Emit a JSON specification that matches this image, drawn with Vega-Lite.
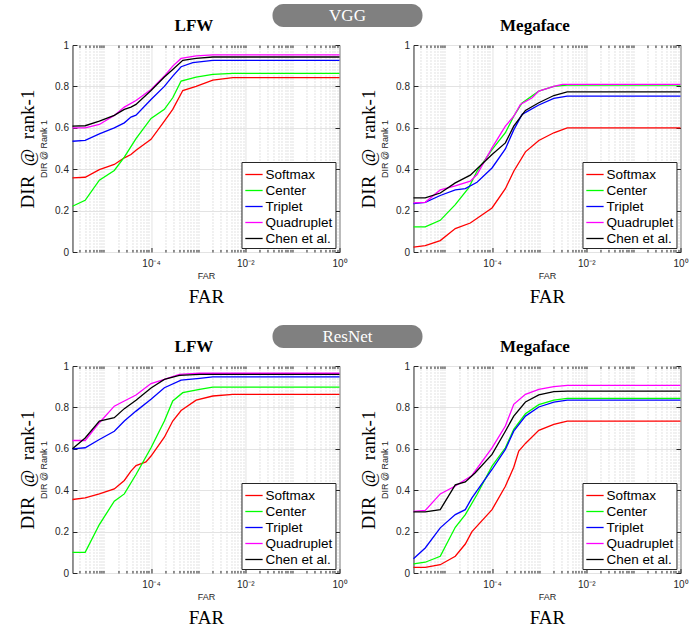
{
"$schema": "https://vega.github.io/schema/vega-lite/v6.json",
"background": "white",
"padding": {"left": 17, "top": 4, "right": 0, "bottom": 0},
"datasets": {"d": [
{"net":"VGG","set":"LFW","method":"Softmax","far":2.15e-6,"dir":0.358},
{"net":"VGG","set":"LFW","method":"Softmax","far":4e-6,"dir":0.361},
{"net":"VGG","set":"LFW","method":"Softmax","far":8e-6,"dir":0.398},
{"net":"VGG","set":"LFW","method":"Softmax","far":1.66e-5,"dir":0.423},
{"net":"VGG","set":"LFW","method":"Softmax","far":2.71e-5,"dir":0.455},
{"net":"VGG","set":"LFW","method":"Softmax","far":3.75e-5,"dir":0.471},
{"net":"VGG","set":"LFW","method":"Softmax","far":4.8e-5,"dir":0.492},
{"net":"VGG","set":"LFW","method":"Softmax","far":1e-4,"dir":0.544},
{"net":"VGG","set":"LFW","method":"Softmax","far":1.92e-4,"dir":0.632},
{"net":"VGG","set":"LFW","method":"Softmax","far":2.89e-4,"dir":0.689},
{"net":"VGG","set":"LFW","method":"Softmax","far":4.72e-4,"dir":0.78},
{"net":"VGG","set":"LFW","method":"Softmax","far":9.06e-4,"dir":0.80},
{"net":"VGG","set":"LFW","method":"Softmax","far":2.05e-3,"dir":0.83},
{"net":"VGG","set":"LFW","method":"Softmax","far":5.47e-3,"dir":0.842},
{"net":"VGG","set":"LFW","method":"Softmax","far":1,"dir":0.842},
{"net":"VGG","set":"LFW","method":"Center","far":2.15e-6,"dir":0.221},
{"net":"VGG","set":"LFW","method":"Center","far":4e-6,"dir":0.25},
{"net":"VGG","set":"LFW","method":"Center","far":8e-6,"dir":0.347},
{"net":"VGG","set":"LFW","method":"Center","far":1.66e-5,"dir":0.394},
{"net":"VGG","set":"LFW","method":"Center","far":2.71e-5,"dir":0.458},
{"net":"VGG","set":"LFW","method":"Center","far":4.8e-5,"dir":0.548},
{"net":"VGG","set":"LFW","method":"Center","far":1e-4,"dir":0.645},
{"net":"VGG","set":"LFW","method":"Center","far":1.92e-4,"dir":0.689},
{"net":"VGG","set":"LFW","method":"Center","far":2.89e-4,"dir":0.745},
{"net":"VGG","set":"LFW","method":"Center","far":4.35e-4,"dir":0.826},
{"net":"VGG","set":"LFW","method":"Center","far":9.06e-4,"dir":0.845},
{"net":"VGG","set":"LFW","method":"Center","far":2.05e-3,"dir":0.858},
{"net":"VGG","set":"LFW","method":"Center","far":5.47e-3,"dir":0.863},
{"net":"VGG","set":"LFW","method":"Center","far":1,"dir":0.863},
{"net":"VGG","set":"LFW","method":"Triplet","far":2.15e-6,"dir":0.535},
{"net":"VGG","set":"LFW","method":"Triplet","far":4e-6,"dir":0.539},
{"net":"VGG","set":"LFW","method":"Triplet","far":8e-6,"dir":0.571},
{"net":"VGG","set":"LFW","method":"Triplet","far":1.66e-5,"dir":0.60},
{"net":"VGG","set":"LFW","method":"Triplet","far":2.71e-5,"dir":0.624},
{"net":"VGG","set":"LFW","method":"Triplet","far":3.75e-5,"dir":0.652},
{"net":"VGG","set":"LFW","method":"Triplet","far":4.8e-5,"dir":0.661},
{"net":"VGG","set":"LFW","method":"Triplet","far":1e-4,"dir":0.737},
{"net":"VGG","set":"LFW","method":"Triplet","far":1.92e-4,"dir":0.80},
{"net":"VGG","set":"LFW","method":"Triplet","far":2.89e-4,"dir":0.85},
{"net":"VGG","set":"LFW","method":"Triplet","far":4.35e-4,"dir":0.895},
{"net":"VGG","set":"LFW","method":"Triplet","far":7.7e-4,"dir":0.915},
{"net":"VGG","set":"LFW","method":"Triplet","far":2.05e-3,"dir":0.926},
{"net":"VGG","set":"LFW","method":"Triplet","far":1,"dir":0.926},
{"net":"VGG","set":"LFW","method":"Quadruplet","far":2.15e-6,"dir":0.60},
{"net":"VGG","set":"LFW","method":"Quadruplet","far":4e-6,"dir":0.60},
{"net":"VGG","set":"LFW","method":"Quadruplet","far":8e-6,"dir":0.616},
{"net":"VGG","set":"LFW","method":"Quadruplet","far":1.66e-5,"dir":0.66},
{"net":"VGG","set":"LFW","method":"Quadruplet","far":2.71e-5,"dir":0.70},
{"net":"VGG","set":"LFW","method":"Quadruplet","far":4.8e-5,"dir":0.732},
{"net":"VGG","set":"LFW","method":"Quadruplet","far":1e-4,"dir":0.785},
{"net":"VGG","set":"LFW","method":"Quadruplet","far":1.92e-4,"dir":0.85},
{"net":"VGG","set":"LFW","method":"Quadruplet","far":2.89e-4,"dir":0.898},
{"net":"VGG","set":"LFW","method":"Quadruplet","far":4.35e-4,"dir":0.935},
{"net":"VGG","set":"LFW","method":"Quadruplet","far":9.06e-4,"dir":0.947},
{"net":"VGG","set":"LFW","method":"Quadruplet","far":2.05e-3,"dir":0.952},
{"net":"VGG","set":"LFW","method":"Quadruplet","far":1,"dir":0.952},
{"net":"VGG","set":"LFW","method":"Chen et al.","far":2.15e-6,"dir":0.608},
{"net":"VGG","set":"LFW","method":"Chen et al.","far":4e-6,"dir":0.61},
{"net":"VGG","set":"LFW","method":"Chen et al.","far":8e-6,"dir":0.632},
{"net":"VGG","set":"LFW","method":"Chen et al.","far":1.66e-5,"dir":0.66},
{"net":"VGG","set":"LFW","method":"Chen et al.","far":2.71e-5,"dir":0.689},
{"net":"VGG","set":"LFW","method":"Chen et al.","far":3.75e-5,"dir":0.70},
{"net":"VGG","set":"LFW","method":"Chen et al.","far":4.8e-5,"dir":0.713},
{"net":"VGG","set":"LFW","method":"Chen et al.","far":1e-4,"dir":0.78},
{"net":"VGG","set":"LFW","method":"Chen et al.","far":1.92e-4,"dir":0.845},
{"net":"VGG","set":"LFW","method":"Chen et al.","far":2.89e-4,"dir":0.882},
{"net":"VGG","set":"LFW","method":"Chen et al.","far":4.72e-4,"dir":0.926},
{"net":"VGG","set":"LFW","method":"Chen et al.","far":9.06e-4,"dir":0.935},
{"net":"VGG","set":"LFW","method":"Chen et al.","far":2.05e-3,"dir":0.942},
{"net":"VGG","set":"LFW","method":"Chen et al.","far":1,"dir":0.942},
{"net":"VGG","set":"Megaface","method":"Softmax","far":2.15e-6,"dir":0.024},
{"net":"VGG","set":"Megaface","method":"Softmax","far":3.82e-6,"dir":0.031},
{"net":"VGG","set":"Megaface","method":"Softmax","far":7.96e-6,"dir":0.055},
{"net":"VGG","set":"Megaface","method":"Softmax","far":1.66e-5,"dir":0.113},
{"net":"VGG","set":"Megaface","method":"Softmax","far":3.46e-5,"dir":0.14},
{"net":"VGG","set":"Megaface","method":"Softmax","far":1e-4,"dir":0.213},
{"net":"VGG","set":"Megaface","method":"Softmax","far":1.92e-4,"dir":0.306},
{"net":"VGG","set":"Megaface","method":"Softmax","far":2.89e-4,"dir":0.39},
{"net":"VGG","set":"Megaface","method":"Softmax","far":5.12e-4,"dir":0.484},
{"net":"VGG","set":"Megaface","method":"Softmax","far":9.84e-4,"dir":0.539},
{"net":"VGG","set":"Megaface","method":"Softmax","far":2.05e-3,"dir":0.576},
{"net":"VGG","set":"Megaface","method":"Softmax","far":3.94e-3,"dir":0.60},
{"net":"VGG","set":"Megaface","method":"Softmax","far":1,"dir":0.60},
{"net":"VGG","set":"Megaface","method":"Center","far":2.15e-6,"dir":0.121},
{"net":"VGG","set":"Megaface","method":"Center","far":3.82e-6,"dir":0.121},
{"net":"VGG","set":"Megaface","method":"Center","far":7.96e-6,"dir":0.153},
{"net":"VGG","set":"Megaface","method":"Center","far":1.66e-5,"dir":0.229},
{"net":"VGG","set":"Megaface","method":"Center","far":3.19e-5,"dir":0.31},
{"net":"VGG","set":"Megaface","method":"Center","far":4.8e-5,"dir":0.39},
{"net":"VGG","set":"Megaface","method":"Center","far":1e-4,"dir":0.495},
{"net":"VGG","set":"Megaface","method":"Center","far":1.92e-4,"dir":0.576},
{"net":"VGG","set":"Megaface","method":"Center","far":2.89e-4,"dir":0.656},
{"net":"VGG","set":"Megaface","method":"Center","far":4.35e-4,"dir":0.72},
{"net":"VGG","set":"Megaface","method":"Center","far":9.84e-4,"dir":0.777},
{"net":"VGG","set":"Megaface","method":"Center","far":2.05e-3,"dir":0.80},
{"net":"VGG","set":"Megaface","method":"Center","far":3.94e-3,"dir":0.806},
{"net":"VGG","set":"Megaface","method":"Center","far":1,"dir":0.806},
{"net":"VGG","set":"Megaface","method":"Triplet","far":2.15e-6,"dir":0.234},
{"net":"VGG","set":"Megaface","method":"Triplet","far":3.82e-6,"dir":0.24},
{"net":"VGG","set":"Megaface","method":"Triplet","far":7.96e-6,"dir":0.273},
{"net":"VGG","set":"Megaface","method":"Triplet","far":1.66e-5,"dir":0.30},
{"net":"VGG","set":"Megaface","method":"Triplet","far":2.71e-5,"dir":0.306},
{"net":"VGG","set":"Megaface","method":"Triplet","far":4.8e-5,"dir":0.337},
{"net":"VGG","set":"Megaface","method":"Triplet","far":1e-4,"dir":0.406},
{"net":"VGG","set":"Megaface","method":"Triplet","far":1.92e-4,"dir":0.498},
{"net":"VGG","set":"Megaface","method":"Triplet","far":2.89e-4,"dir":0.59},
{"net":"VGG","set":"Megaface","method":"Triplet","far":4.35e-4,"dir":0.665},
{"net":"VGG","set":"Megaface","method":"Triplet","far":9.84e-4,"dir":0.71},
{"net":"VGG","set":"Megaface","method":"Triplet","far":2.05e-3,"dir":0.742},
{"net":"VGG","set":"Megaface","method":"Triplet","far":3.94e-3,"dir":0.753},
{"net":"VGG","set":"Megaface","method":"Triplet","far":1,"dir":0.753},
{"net":"VGG","set":"Megaface","method":"Quadruplet","far":2.15e-6,"dir":0.237},
{"net":"VGG","set":"Megaface","method":"Quadruplet","far":3.82e-6,"dir":0.24},
{"net":"VGG","set":"Megaface","method":"Quadruplet","far":7.96e-6,"dir":0.30},
{"net":"VGG","set":"Megaface","method":"Quadruplet","far":1.66e-5,"dir":0.32},
{"net":"VGG","set":"Megaface","method":"Quadruplet","far":3.46e-5,"dir":0.342},
{"net":"VGG","set":"Megaface","method":"Quadruplet","far":4.8e-5,"dir":0.374},
{"net":"VGG","set":"Megaface","method":"Quadruplet","far":1e-4,"dir":0.503},
{"net":"VGG","set":"Megaface","method":"Quadruplet","far":1.92e-4,"dir":0.608},
{"net":"VGG","set":"Megaface","method":"Quadruplet","far":2.89e-4,"dir":0.656},
{"net":"VGG","set":"Megaface","method":"Quadruplet","far":4e-4,"dir":0.713},
{"net":"VGG","set":"Megaface","method":"Quadruplet","far":7.1e-4,"dir":0.745},
{"net":"VGG","set":"Megaface","method":"Quadruplet","far":9.84e-4,"dir":0.777},
{"net":"VGG","set":"Megaface","method":"Quadruplet","far":2.05e-3,"dir":0.80},
{"net":"VGG","set":"Megaface","method":"Quadruplet","far":3.09e-3,"dir":0.81},
{"net":"VGG","set":"Megaface","method":"Quadruplet","far":1,"dir":0.81},
{"net":"VGG","set":"Megaface","method":"Chen et al.","far":2.15e-6,"dir":0.261},
{"net":"VGG","set":"Megaface","method":"Chen et al.","far":3.82e-6,"dir":0.261},
{"net":"VGG","set":"Megaface","method":"Chen et al.","far":7.96e-6,"dir":0.285},
{"net":"VGG","set":"Megaface","method":"Chen et al.","far":1.66e-5,"dir":0.334},
{"net":"VGG","set":"Megaface","method":"Chen et al.","far":3.46e-5,"dir":0.371},
{"net":"VGG","set":"Megaface","method":"Chen et al.","far":1e-4,"dir":0.471},
{"net":"VGG","set":"Megaface","method":"Chen et al.","far":1.92e-4,"dir":0.527},
{"net":"VGG","set":"Megaface","method":"Chen et al.","far":2.89e-4,"dir":0.608},
{"net":"VGG","set":"Megaface","method":"Chen et al.","far":5.12e-4,"dir":0.684},
{"net":"VGG","set":"Megaface","method":"Chen et al.","far":9.84e-4,"dir":0.721},
{"net":"VGG","set":"Megaface","method":"Chen et al.","far":2.05e-3,"dir":0.756},
{"net":"VGG","set":"Megaface","method":"Chen et al.","far":3.94e-3,"dir":0.774},
{"net":"VGG","set":"Megaface","method":"Chen et al.","far":1,"dir":0.774},
{"net":"ResNet","set":"LFW","method":"Softmax","far":2.15e-6,"dir":0.355},
{"net":"ResNet","set":"LFW","method":"Softmax","far":4e-6,"dir":0.363},
{"net":"ResNet","set":"LFW","method":"Softmax","far":8e-6,"dir":0.382},
{"net":"ResNet","set":"LFW","method":"Softmax","far":1.66e-5,"dir":0.406},
{"net":"ResNet","set":"LFW","method":"Softmax","far":2.71e-5,"dir":0.447},
{"net":"ResNet","set":"LFW","method":"Softmax","far":3.75e-5,"dir":0.492},
{"net":"ResNet","set":"LFW","method":"Softmax","far":4.8e-5,"dir":0.519},
{"net":"ResNet","set":"LFW","method":"Softmax","far":7.8e-5,"dir":0.537},
{"net":"ResNet","set":"LFW","method":"Softmax","far":1e-4,"dir":0.565},
{"net":"ResNet","set":"LFW","method":"Softmax","far":1.92e-4,"dir":0.656},
{"net":"ResNet","set":"LFW","method":"Softmax","far":2.89e-4,"dir":0.734},
{"net":"ResNet","set":"LFW","method":"Softmax","far":4.35e-4,"dir":0.785},
{"net":"ResNet","set":"LFW","method":"Softmax","far":9.06e-4,"dir":0.835},
{"net":"ResNet","set":"LFW","method":"Softmax","far":2.05e-3,"dir":0.855},
{"net":"ResNet","set":"LFW","method":"Softmax","far":5.47e-3,"dir":0.863},
{"net":"ResNet","set":"LFW","method":"Softmax","far":1,"dir":0.863},
{"net":"ResNet","set":"LFW","method":"Center","far":2.15e-6,"dir":0.10},
{"net":"ResNet","set":"LFW","method":"Center","far":4e-6,"dir":0.10},
{"net":"ResNet","set":"LFW","method":"Center","far":8e-6,"dir":0.234},
{"net":"ResNet","set":"LFW","method":"Center","far":1.66e-5,"dir":0.347},
{"net":"ResNet","set":"LFW","method":"Center","far":2.71e-5,"dir":0.382},
{"net":"ResNet","set":"LFW","method":"Center","far":4.8e-5,"dir":0.476},
{"net":"ResNet","set":"LFW","method":"Center","far":1e-4,"dir":0.605},
{"net":"ResNet","set":"LFW","method":"Center","far":1.92e-4,"dir":0.734},
{"net":"ResNet","set":"LFW","method":"Center","far":2.89e-4,"dir":0.831},
{"net":"ResNet","set":"LFW","method":"Center","far":4.72e-4,"dir":0.871},
{"net":"ResNet","set":"LFW","method":"Center","far":1.07e-3,"dir":0.887},
{"net":"ResNet","set":"LFW","method":"Center","far":2.05e-3,"dir":0.898},
{"net":"ResNet","set":"LFW","method":"Center","far":1,"dir":0.898},
{"net":"ResNet","set":"LFW","method":"Triplet","far":2.15e-6,"dir":0.60},
{"net":"ResNet","set":"LFW","method":"Triplet","far":4e-6,"dir":0.605},
{"net":"ResNet","set":"LFW","method":"Triplet","far":8e-6,"dir":0.645},
{"net":"ResNet","set":"LFW","method":"Triplet","far":1.66e-5,"dir":0.685},
{"net":"ResNet","set":"LFW","method":"Triplet","far":2.71e-5,"dir":0.734},
{"net":"ResNet","set":"LFW","method":"Triplet","far":4.8e-5,"dir":0.782},
{"net":"ResNet","set":"LFW","method":"Triplet","far":1e-4,"dir":0.839},
{"net":"ResNet","set":"LFW","method":"Triplet","far":1.92e-4,"dir":0.895},
{"net":"ResNet","set":"LFW","method":"Triplet","far":4.35e-4,"dir":0.932},
{"net":"ResNet","set":"LFW","method":"Triplet","far":1.07e-3,"dir":0.94},
{"net":"ResNet","set":"LFW","method":"Triplet","far":2.05e-3,"dir":0.947},
{"net":"ResNet","set":"LFW","method":"Triplet","far":1,"dir":0.947},
{"net":"ResNet","set":"LFW","method":"Quadruplet","far":2.15e-6,"dir":0.64},
{"net":"ResNet","set":"LFW","method":"Quadruplet","far":4e-6,"dir":0.64},
{"net":"ResNet","set":"LFW","method":"Quadruplet","far":8e-6,"dir":0.726},
{"net":"ResNet","set":"LFW","method":"Quadruplet","far":1.66e-5,"dir":0.806},
{"net":"ResNet","set":"LFW","method":"Quadruplet","far":2.71e-5,"dir":0.831},
{"net":"ResNet","set":"LFW","method":"Quadruplet","far":4.8e-5,"dir":0.86},
{"net":"ResNet","set":"LFW","method":"Quadruplet","far":1e-4,"dir":0.915},
{"net":"ResNet","set":"LFW","method":"Quadruplet","far":1.92e-4,"dir":0.935},
{"net":"ResNet","set":"LFW","method":"Quadruplet","far":4e-4,"dir":0.96},
{"net":"ResNet","set":"LFW","method":"Quadruplet","far":1.07e-3,"dir":0.965},
{"net":"ResNet","set":"LFW","method":"Quadruplet","far":1,"dir":0.965},
{"net":"ResNet","set":"LFW","method":"Chen et al.","far":2.15e-6,"dir":0.60},
{"net":"ResNet","set":"LFW","method":"Chen et al.","far":4e-6,"dir":0.652},
{"net":"ResNet","set":"LFW","method":"Chen et al.","far":8e-6,"dir":0.734},
{"net":"ResNet","set":"LFW","method":"Chen et al.","far":1.66e-5,"dir":0.75},
{"net":"ResNet","set":"LFW","method":"Chen et al.","far":2.71e-5,"dir":0.794},
{"net":"ResNet","set":"LFW","method":"Chen et al.","far":4.8e-5,"dir":0.835},
{"net":"ResNet","set":"LFW","method":"Chen et al.","far":1e-4,"dir":0.894},
{"net":"ResNet","set":"LFW","method":"Chen et al.","far":1.92e-4,"dir":0.935},
{"net":"ResNet","set":"LFW","method":"Chen et al.","far":4e-4,"dir":0.955},
{"net":"ResNet","set":"LFW","method":"Chen et al.","far":1.07e-3,"dir":0.96},
{"net":"ResNet","set":"LFW","method":"Chen et al.","far":1,"dir":0.96},
{"net":"ResNet","set":"Megaface","method":"Softmax","far":2.15e-6,"dir":0.027},
{"net":"ResNet","set":"Megaface","method":"Softmax","far":3.82e-6,"dir":0.027},
{"net":"ResNet","set":"Megaface","method":"Softmax","far":7.96e-6,"dir":0.04},
{"net":"ResNet","set":"Megaface","method":"Softmax","far":1.66e-5,"dir":0.081},
{"net":"ResNet","set":"Megaface","method":"Softmax","far":2.71e-5,"dir":0.14},
{"net":"ResNet","set":"Megaface","method":"Softmax","far":3.75e-5,"dir":0.20},
{"net":"ResNet","set":"Megaface","method":"Softmax","far":1e-4,"dir":0.306},
{"net":"ResNet","set":"Megaface","method":"Softmax","far":1.92e-4,"dir":0.419},
{"net":"ResNet","set":"Megaface","method":"Softmax","far":2.89e-4,"dir":0.511},
{"net":"ResNet","set":"Megaface","method":"Softmax","far":3.69e-4,"dir":0.589},
{"net":"ResNet","set":"Megaface","method":"Softmax","far":5.12e-4,"dir":0.626},
{"net":"ResNet","set":"Megaface","method":"Softmax","far":9.84e-4,"dir":0.689},
{"net":"ResNet","set":"Megaface","method":"Softmax","far":2.05e-3,"dir":0.718},
{"net":"ResNet","set":"Megaface","method":"Softmax","far":3.94e-3,"dir":0.734},
{"net":"ResNet","set":"Megaface","method":"Softmax","far":1,"dir":0.734},
{"net":"ResNet","set":"Megaface","method":"Center","far":2.15e-6,"dir":0.044},
{"net":"ResNet","set":"Megaface","method":"Center","far":3.82e-6,"dir":0.052},
{"net":"ResNet","set":"Megaface","method":"Center","far":7.96e-6,"dir":0.081},
{"net":"ResNet","set":"Megaface","method":"Center","far":1.66e-5,"dir":0.221},
{"net":"ResNet","set":"Megaface","method":"Center","far":2.71e-5,"dir":0.282},
{"net":"ResNet","set":"Megaface","method":"Center","far":4.8e-5,"dir":0.379},
{"net":"ResNet","set":"Megaface","method":"Center","far":1e-4,"dir":0.516},
{"net":"ResNet","set":"Megaface","method":"Center","far":1.92e-4,"dir":0.605},
{"net":"ResNet","set":"Megaface","method":"Center","far":2.89e-4,"dir":0.694},
{"net":"ResNet","set":"Megaface","method":"Center","far":5.12e-4,"dir":0.769},
{"net":"ResNet","set":"Megaface","method":"Center","far":9.84e-4,"dir":0.813},
{"net":"ResNet","set":"Megaface","method":"Center","far":2.05e-3,"dir":0.835},
{"net":"ResNet","set":"Megaface","method":"Center","far":3.94e-3,"dir":0.844},
{"net":"ResNet","set":"Megaface","method":"Center","far":1,"dir":0.844},
{"net":"ResNet","set":"Megaface","method":"Triplet","far":2.15e-6,"dir":0.069},
{"net":"ResNet","set":"Megaface","method":"Triplet","far":3.82e-6,"dir":0.121},
{"net":"ResNet","set":"Megaface","method":"Triplet","far":7.96e-6,"dir":0.218},
{"net":"ResNet","set":"Megaface","method":"Triplet","far":1.66e-5,"dir":0.282},
{"net":"ResNet","set":"Megaface","method":"Triplet","far":2.71e-5,"dir":0.306},
{"net":"ResNet","set":"Megaface","method":"Triplet","far":3.75e-5,"dir":0.363},
{"net":"ResNet","set":"Megaface","method":"Triplet","far":1e-4,"dir":0.50},
{"net":"ResNet","set":"Megaface","method":"Triplet","far":1.92e-4,"dir":0.597},
{"net":"ResNet","set":"Megaface","method":"Triplet","far":2.89e-4,"dir":0.685},
{"net":"ResNet","set":"Megaface","method":"Triplet","far":5.12e-4,"dir":0.758},
{"net":"ResNet","set":"Megaface","method":"Triplet","far":9.84e-4,"dir":0.802},
{"net":"ResNet","set":"Megaface","method":"Triplet","far":2.05e-3,"dir":0.826},
{"net":"ResNet","set":"Megaface","method":"Triplet","far":3.94e-3,"dir":0.835},
{"net":"ResNet","set":"Megaface","method":"Triplet","far":1,"dir":0.835},
{"net":"ResNet","set":"Megaface","method":"Quadruplet","far":2.15e-6,"dir":0.298},
{"net":"ResNet","set":"Megaface","method":"Quadruplet","far":3.82e-6,"dir":0.302},
{"net":"ResNet","set":"Megaface","method":"Quadruplet","far":7.96e-6,"dir":0.382},
{"net":"ResNet","set":"Megaface","method":"Quadruplet","far":1.66e-5,"dir":0.42},
{"net":"ResNet","set":"Megaface","method":"Quadruplet","far":3.75e-5,"dir":0.471},
{"net":"ResNet","set":"Megaface","method":"Quadruplet","far":1e-4,"dir":0.605},
{"net":"ResNet","set":"Megaface","method":"Quadruplet","far":1.92e-4,"dir":0.71},
{"net":"ResNet","set":"Megaface","method":"Quadruplet","far":2.89e-4,"dir":0.815},
{"net":"ResNet","set":"Megaface","method":"Quadruplet","far":5.12e-4,"dir":0.863},
{"net":"ResNet","set":"Megaface","method":"Quadruplet","far":9.84e-4,"dir":0.887},
{"net":"ResNet","set":"Megaface","method":"Quadruplet","far":2.05e-3,"dir":0.90},
{"net":"ResNet","set":"Megaface","method":"Quadruplet","far":3.94e-3,"dir":0.906},
{"net":"ResNet","set":"Megaface","method":"Quadruplet","far":1,"dir":0.906},
{"net":"ResNet","set":"Megaface","method":"Chen et al.","far":2.15e-6,"dir":0.295},
{"net":"ResNet","set":"Megaface","method":"Chen et al.","far":3.82e-6,"dir":0.295},
{"net":"ResNet","set":"Megaface","method":"Chen et al.","far":7.96e-6,"dir":0.306},
{"net":"ResNet","set":"Megaface","method":"Chen et al.","far":1.66e-5,"dir":0.426},
{"net":"ResNet","set":"Megaface","method":"Chen et al.","far":2.71e-5,"dir":0.44},
{"net":"ResNet","set":"Megaface","method":"Chen et al.","far":4.41e-5,"dir":0.484},
{"net":"ResNet","set":"Megaface","method":"Chen et al.","far":1e-4,"dir":0.573},
{"net":"ResNet","set":"Megaface","method":"Chen et al.","far":1.92e-4,"dir":0.685},
{"net":"ResNet","set":"Megaface","method":"Chen et al.","far":2.89e-4,"dir":0.758},
{"net":"ResNet","set":"Megaface","method":"Chen et al.","far":5.12e-4,"dir":0.826},
{"net":"ResNet","set":"Megaface","method":"Chen et al.","far":9.84e-4,"dir":0.86},
{"net":"ResNet","set":"Megaface","method":"Chen et al.","far":2.05e-3,"dir":0.876},
{"net":"ResNet","set":"Megaface","method":"Chen et al.","far":3.94e-3,"dir":0.879},
{"net":"ResNet","set":"Megaface","method":"Chen et al.","far":1,"dir":0.879}
]},
"spacing": 18,
"resolve": {"scale": {"color": "independent"}, "legend": {"color": "independent"}},
"vconcat": [
 {"spacing": -11, "center": true,
  "resolve": {"scale": {"color": "independent"}, "legend": {"color": "independent"}},
  "vconcat": [
   {"width": 216, "height": 23, "view": {"stroke": null},
    "data": {"values": [{"label": "VGG"}]},
    "layer": [
     {"mark": {"type": "bar", "color": "#808080", "cornerRadius": 11},
      "encoding": {"x": {"field": "label", "type": "nominal", "axis": null, "scale": {"paddingInner": 0, "paddingOuter": 0.22, "align": 0}}}},
     {"mark": {"type": "text", "color": "white", "font": "Liberation Serif", "fontSize": 17},
      "encoding": {"x": {"field": "label", "type": "nominal", "axis": null}, "text": {"field": "label"}}}
    ]},
   {"spacing": 10,
    "resolve": {"scale": {"color": "independent"}, "legend": {"color": "independent"}},
    "hconcat": [
     {"width": 267, "height": 207, "data": {"name": "d"},
      "title": {"text": "LFW"},
      "transform": [{"filter": "datum.net == 'VGG' && datum.set == 'LFW'"}],
      "layer": [
       {"mark": {"type": "point", "opacity": 0},
        "encoding": {
         "x": {"field": "far", "type": "quantitative", "scale": {"type": "log", "domain": [2.15e-6, 1], "nice": false},
               "axis": {"orient": "bottom", "values": [3e-6,4e-6,5e-6,6e-6,7e-6,8e-6,9e-6,1e-5,2e-5,3e-5,4e-5,5e-5,6e-5,7e-5,8e-5,9e-5,2e-4,3e-4,4e-4,5e-4,6e-4,7e-4,8e-4,9e-4,1e-3,2e-3,3e-3,4e-3,5e-3,6e-3,7e-3,8e-3,9e-3,2e-2,3e-2,4e-2,5e-2,6e-2,7e-2,8e-2,9e-2,1e-1,2e-1,3e-1,4e-1,5e-1,6e-1,7e-1,8e-1,9e-1], "labels": false, "tickSize": -2.5, "grid": true, "gridDash": [1, 2], "gridColor": "#c4c4c4", "title": "FAR", "titleFont": "Liberation Serif", "titleFontSize": 19, "titleColor": "black", "titlePadding": 35}},
         "y": {"field": "dir", "type": "quantitative", "scale": {"domain": [0, 1], "nice": false},
               "axis": {"orient": "left", "labels": false, "ticks": false, "grid": false, "title": "DIR\u00a0\u00a0@\u00a0\u00a0rank-1", "titleFont": "Liberation Serif", "titleFontSize": 19, "titleColor": "black", "titlePadding": 35}}
        }},
       {"mark": {"type": "point", "opacity": 0},
        "encoding": {
         "x": {"field": "far", "type": "quantitative", "scale": {"type": "log", "domain": [2.15e-6, 1], "nice": false},
               "axis": {"orient": "top", "values": [3e-6,4e-6,5e-6,6e-6,7e-6,8e-6,9e-6,1e-5,2e-5,3e-5,4e-5,5e-5,6e-5,7e-5,8e-5,9e-5,1e-4,2e-4,3e-4,4e-4,5e-4,6e-4,7e-4,8e-4,9e-4,1e-3,2e-3,3e-3,4e-3,5e-3,6e-3,7e-3,8e-3,9e-3,1e-2,2e-2,3e-2,4e-2,5e-2,6e-2,7e-2,8e-2,9e-2,1e-1,2e-1,3e-1,4e-1,5e-1,6e-1,7e-1,8e-1,9e-1], "labels": false, "tickSize": -2.5, "grid": false, "title": null}},
         "y": {"field": "dir", "type": "quantitative", "scale": {"domain": [0, 1], "nice": false},
               "axis": {"orient": "right", "values": [0, 0.2, 0.4, 0.6, 0.8, 1], "labels": false, "tickSize": -4.5, "grid": false, "title": null}}
        }},
       {"mark": {"type": "line", "strokeWidth": 1.3},
        "encoding": {
         "x": {"field": "far", "type": "quantitative", "scale": {"type": "log", "domain": [2.15e-6, 1], "nice": false},
               "axis": {"orient": "bottom", "values": [1e-4, 1e-2, 1], "labelExpr": "datum.value < 0.001 ? '10⁻⁴' : (datum.value < 0.1 ? '10⁻²' : '10⁰')", "tickSize": -4.5, "labelPadding": 11, "grid": true, "title": "FAR", "titlePadding": 3}},
         "y": {"field": "dir", "type": "quantitative", "scale": {"domain": [0, 1], "nice": false},
               "axis": {"orient": "left", "values": [0, 0.2, 0.4, 0.6, 0.8, 1], "format": "~g", "tickSize": -4.5, "labelPadding": 8.5, "grid": true, "title": "DIR @ Rank 1", "titlePadding": 6}},
         "color": {"field": "method", "type": "nominal", "scale": {"domain": ["Softmax", "Center", "Triplet", "Quadruplet", "Chen et al."], "range": ["#ff0000", "#00ff00", "#0000ff", "#ff00ff", "#000000"]}},
         "order": {"field": "far", "type": "quantitative"}
        }}
      ],
      "resolve": {"scale": {"x": "independent", "y": "independent"}}},
     {"width": 267, "height": 207, "data": {"name": "d"},
      "title": {"text": "Megaface"},
      "transform": [{"filter": "datum.net == 'VGG' && datum.set == 'Megaface'"}],
      "layer": [
       {"mark": {"type": "point", "opacity": 0},
        "encoding": {
         "x": {"field": "far", "type": "quantitative", "scale": {"type": "log", "domain": [2.15e-6, 1], "nice": false},
               "axis": {"orient": "bottom", "values": [3e-6,4e-6,5e-6,6e-6,7e-6,8e-6,9e-6,1e-5,2e-5,3e-5,4e-5,5e-5,6e-5,7e-5,8e-5,9e-5,2e-4,3e-4,4e-4,5e-4,6e-4,7e-4,8e-4,9e-4,1e-3,2e-3,3e-3,4e-3,5e-3,6e-3,7e-3,8e-3,9e-3,2e-2,3e-2,4e-2,5e-2,6e-2,7e-2,8e-2,9e-2,1e-1,2e-1,3e-1,4e-1,5e-1,6e-1,7e-1,8e-1,9e-1], "labels": false, "tickSize": -2.5, "grid": true, "gridDash": [1, 2], "gridColor": "#c4c4c4", "title": "FAR", "titleFont": "Liberation Serif", "titleFontSize": 19, "titleColor": "black", "titlePadding": 35}},
         "y": {"field": "dir", "type": "quantitative", "scale": {"domain": [0, 1], "nice": false},
               "axis": {"orient": "left", "labels": false, "ticks": false, "grid": false, "title": "DIR\u00a0\u00a0@\u00a0\u00a0rank-1", "titleFont": "Liberation Serif", "titleFontSize": 19, "titleColor": "black", "titlePadding": 35}}
        }},
       {"mark": {"type": "point", "opacity": 0},
        "encoding": {
         "x": {"field": "far", "type": "quantitative", "scale": {"type": "log", "domain": [2.15e-6, 1], "nice": false},
               "axis": {"orient": "top", "values": [3e-6,4e-6,5e-6,6e-6,7e-6,8e-6,9e-6,1e-5,2e-5,3e-5,4e-5,5e-5,6e-5,7e-5,8e-5,9e-5,1e-4,2e-4,3e-4,4e-4,5e-4,6e-4,7e-4,8e-4,9e-4,1e-3,2e-3,3e-3,4e-3,5e-3,6e-3,7e-3,8e-3,9e-3,1e-2,2e-2,3e-2,4e-2,5e-2,6e-2,7e-2,8e-2,9e-2,1e-1,2e-1,3e-1,4e-1,5e-1,6e-1,7e-1,8e-1,9e-1], "labels": false, "tickSize": -2.5, "grid": false, "title": null}},
         "y": {"field": "dir", "type": "quantitative", "scale": {"domain": [0, 1], "nice": false},
               "axis": {"orient": "right", "values": [0, 0.2, 0.4, 0.6, 0.8, 1], "labels": false, "tickSize": -4.5, "grid": false, "title": null}}
        }},
       {"mark": {"type": "line", "strokeWidth": 1.3},
        "encoding": {
         "x": {"field": "far", "type": "quantitative", "scale": {"type": "log", "domain": [2.15e-6, 1], "nice": false},
               "axis": {"orient": "bottom", "values": [1e-4, 1e-2, 1], "labelExpr": "datum.value < 0.001 ? '10⁻⁴' : (datum.value < 0.1 ? '10⁻²' : '10⁰')", "tickSize": -4.5, "labelPadding": 11, "grid": true, "title": "FAR", "titlePadding": 3}},
         "y": {"field": "dir", "type": "quantitative", "scale": {"domain": [0, 1], "nice": false},
               "axis": {"orient": "left", "values": [0, 0.2, 0.4, 0.6, 0.8, 1], "format": "~g", "tickSize": -4.5, "labelPadding": 8.5, "grid": true, "title": "DIR @ Rank 1", "titlePadding": 6}},
         "color": {"field": "method", "type": "nominal", "scale": {"domain": ["Softmax", "Center", "Triplet", "Quadruplet", "Chen et al."], "range": ["#ff0000", "#00ff00", "#0000ff", "#ff00ff", "#000000"]}},
         "order": {"field": "far", "type": "quantitative"}
        }}
      ],
      "resolve": {"scale": {"x": "independent", "y": "independent"}}}
    ]}
  ]},
 {"spacing": -11, "center": true,
  "resolve": {"scale": {"color": "independent"}, "legend": {"color": "independent"}},
  "vconcat": [
   {"width": 216, "height": 23, "view": {"stroke": null},
    "data": {"values": [{"label": "ResNet"}]},
    "layer": [
     {"mark": {"type": "bar", "color": "#808080", "cornerRadius": 11},
      "encoding": {"x": {"field": "label", "type": "nominal", "axis": null, "scale": {"paddingInner": 0, "paddingOuter": 0.22, "align": 0}}}},
     {"mark": {"type": "text", "color": "white", "font": "Liberation Serif", "fontSize": 17},
      "encoding": {"x": {"field": "label", "type": "nominal", "axis": null}, "text": {"field": "label"}}}
    ]},
   {"spacing": 10,
    "resolve": {"scale": {"color": "independent"}, "legend": {"color": "independent"}},
    "hconcat": [
     {"width": 267, "height": 207, "data": {"name": "d"},
      "title": {"text": "LFW"},
      "transform": [{"filter": "datum.net == 'ResNet' && datum.set == 'LFW'"}],
      "layer": [
       {"mark": {"type": "point", "opacity": 0},
        "encoding": {
         "x": {"field": "far", "type": "quantitative", "scale": {"type": "log", "domain": [2.15e-6, 1], "nice": false},
               "axis": {"orient": "bottom", "values": [3e-6,4e-6,5e-6,6e-6,7e-6,8e-6,9e-6,1e-5,2e-5,3e-5,4e-5,5e-5,6e-5,7e-5,8e-5,9e-5,2e-4,3e-4,4e-4,5e-4,6e-4,7e-4,8e-4,9e-4,1e-3,2e-3,3e-3,4e-3,5e-3,6e-3,7e-3,8e-3,9e-3,2e-2,3e-2,4e-2,5e-2,6e-2,7e-2,8e-2,9e-2,1e-1,2e-1,3e-1,4e-1,5e-1,6e-1,7e-1,8e-1,9e-1], "labels": false, "tickSize": -2.5, "grid": true, "gridDash": [1, 2], "gridColor": "#c4c4c4", "title": "FAR", "titleFont": "Liberation Serif", "titleFontSize": 19, "titleColor": "black", "titlePadding": 35}},
         "y": {"field": "dir", "type": "quantitative", "scale": {"domain": [0, 1], "nice": false},
               "axis": {"orient": "left", "labels": false, "ticks": false, "grid": false, "title": "DIR\u00a0\u00a0@\u00a0\u00a0rank-1", "titleFont": "Liberation Serif", "titleFontSize": 19, "titleColor": "black", "titlePadding": 35}}
        }},
       {"mark": {"type": "point", "opacity": 0},
        "encoding": {
         "x": {"field": "far", "type": "quantitative", "scale": {"type": "log", "domain": [2.15e-6, 1], "nice": false},
               "axis": {"orient": "top", "values": [3e-6,4e-6,5e-6,6e-6,7e-6,8e-6,9e-6,1e-5,2e-5,3e-5,4e-5,5e-5,6e-5,7e-5,8e-5,9e-5,1e-4,2e-4,3e-4,4e-4,5e-4,6e-4,7e-4,8e-4,9e-4,1e-3,2e-3,3e-3,4e-3,5e-3,6e-3,7e-3,8e-3,9e-3,1e-2,2e-2,3e-2,4e-2,5e-2,6e-2,7e-2,8e-2,9e-2,1e-1,2e-1,3e-1,4e-1,5e-1,6e-1,7e-1,8e-1,9e-1], "labels": false, "tickSize": -2.5, "grid": false, "title": null}},
         "y": {"field": "dir", "type": "quantitative", "scale": {"domain": [0, 1], "nice": false},
               "axis": {"orient": "right", "values": [0, 0.2, 0.4, 0.6, 0.8, 1], "labels": false, "tickSize": -4.5, "grid": false, "title": null}}
        }},
       {"mark": {"type": "line", "strokeWidth": 1.3},
        "encoding": {
         "x": {"field": "far", "type": "quantitative", "scale": {"type": "log", "domain": [2.15e-6, 1], "nice": false},
               "axis": {"orient": "bottom", "values": [1e-4, 1e-2, 1], "labelExpr": "datum.value < 0.001 ? '10⁻⁴' : (datum.value < 0.1 ? '10⁻²' : '10⁰')", "tickSize": -4.5, "labelPadding": 11, "grid": true, "title": "FAR", "titlePadding": 3}},
         "y": {"field": "dir", "type": "quantitative", "scale": {"domain": [0, 1], "nice": false},
               "axis": {"orient": "left", "values": [0, 0.2, 0.4, 0.6, 0.8, 1], "format": "~g", "tickSize": -4.5, "labelPadding": 8.5, "grid": true, "title": "DIR @ Rank 1", "titlePadding": 6}},
         "color": {"field": "method", "type": "nominal", "scale": {"domain": ["Softmax", "Center", "Triplet", "Quadruplet", "Chen et al."], "range": ["#ff0000", "#00ff00", "#0000ff", "#ff00ff", "#000000"]}},
         "order": {"field": "far", "type": "quantitative"}
        }}
      ],
      "resolve": {"scale": {"x": "independent", "y": "independent"}}},
     {"width": 267, "height": 207, "data": {"name": "d"},
      "title": {"text": "Megaface"},
      "transform": [{"filter": "datum.net == 'ResNet' && datum.set == 'Megaface'"}],
      "layer": [
       {"mark": {"type": "point", "opacity": 0},
        "encoding": {
         "x": {"field": "far", "type": "quantitative", "scale": {"type": "log", "domain": [2.15e-6, 1], "nice": false},
               "axis": {"orient": "bottom", "values": [3e-6,4e-6,5e-6,6e-6,7e-6,8e-6,9e-6,1e-5,2e-5,3e-5,4e-5,5e-5,6e-5,7e-5,8e-5,9e-5,2e-4,3e-4,4e-4,5e-4,6e-4,7e-4,8e-4,9e-4,1e-3,2e-3,3e-3,4e-3,5e-3,6e-3,7e-3,8e-3,9e-3,2e-2,3e-2,4e-2,5e-2,6e-2,7e-2,8e-2,9e-2,1e-1,2e-1,3e-1,4e-1,5e-1,6e-1,7e-1,8e-1,9e-1], "labels": false, "tickSize": -2.5, "grid": true, "gridDash": [1, 2], "gridColor": "#c4c4c4", "title": "FAR", "titleFont": "Liberation Serif", "titleFontSize": 19, "titleColor": "black", "titlePadding": 35}},
         "y": {"field": "dir", "type": "quantitative", "scale": {"domain": [0, 1], "nice": false},
               "axis": {"orient": "left", "labels": false, "ticks": false, "grid": false, "title": "DIR\u00a0\u00a0@\u00a0\u00a0rank-1", "titleFont": "Liberation Serif", "titleFontSize": 19, "titleColor": "black", "titlePadding": 35}}
        }},
       {"mark": {"type": "point", "opacity": 0},
        "encoding": {
         "x": {"field": "far", "type": "quantitative", "scale": {"type": "log", "domain": [2.15e-6, 1], "nice": false},
               "axis": {"orient": "top", "values": [3e-6,4e-6,5e-6,6e-6,7e-6,8e-6,9e-6,1e-5,2e-5,3e-5,4e-5,5e-5,6e-5,7e-5,8e-5,9e-5,1e-4,2e-4,3e-4,4e-4,5e-4,6e-4,7e-4,8e-4,9e-4,1e-3,2e-3,3e-3,4e-3,5e-3,6e-3,7e-3,8e-3,9e-3,1e-2,2e-2,3e-2,4e-2,5e-2,6e-2,7e-2,8e-2,9e-2,1e-1,2e-1,3e-1,4e-1,5e-1,6e-1,7e-1,8e-1,9e-1], "labels": false, "tickSize": -2.5, "grid": false, "title": null}},
         "y": {"field": "dir", "type": "quantitative", "scale": {"domain": [0, 1], "nice": false},
               "axis": {"orient": "right", "values": [0, 0.2, 0.4, 0.6, 0.8, 1], "labels": false, "tickSize": -4.5, "grid": false, "title": null}}
        }},
       {"mark": {"type": "line", "strokeWidth": 1.3},
        "encoding": {
         "x": {"field": "far", "type": "quantitative", "scale": {"type": "log", "domain": [2.15e-6, 1], "nice": false},
               "axis": {"orient": "bottom", "values": [1e-4, 1e-2, 1], "labelExpr": "datum.value < 0.001 ? '10⁻⁴' : (datum.value < 0.1 ? '10⁻²' : '10⁰')", "tickSize": -4.5, "labelPadding": 11, "grid": true, "title": "FAR", "titlePadding": 3}},
         "y": {"field": "dir", "type": "quantitative", "scale": {"domain": [0, 1], "nice": false},
               "axis": {"orient": "left", "values": [0, 0.2, 0.4, 0.6, 0.8, 1], "format": "~g", "tickSize": -4.5, "labelPadding": 8.5, "grid": true, "title": "DIR @ Rank 1", "titlePadding": 6}},
         "color": {"field": "method", "type": "nominal", "scale": {"domain": ["Softmax", "Center", "Triplet", "Quadruplet", "Chen et al."], "range": ["#ff0000", "#00ff00", "#0000ff", "#ff00ff", "#000000"]}},
         "order": {"field": "far", "type": "quantitative"}
        }}
      ],
      "resolve": {"scale": {"x": "independent", "y": "independent"}}}
    ]}
  ]}
],
"config": {
 "view": {"stroke": "#262626", "strokeWidth": 1},
 "axis": {"labelFont": "Liberation Sans", "labelFontSize": 10, "labelColor": "#262626", "titleFont": "Liberation Sans", "titleFontSize": 9, "titleFontWeight": "normal", "titleColor": "#262626", "domain": false, "tickColor": "#262626", "gridColor": "#e3e3e3", "gridWidth": 1, "labelFlush": false, "labelOverlap": false, "labelBound": false},
 "legend": {"orient": "bottom-right", "offset": 4, "title": null, "fillColor": "white", "strokeColor": "#262626", "padding": 3, "symbolType": "stroke", "symbolSize": 300, "symbolStrokeWidth": 1.3, "labelFont": "Liberation Sans", "labelFontSize": 13.5, "labelColor": "black", "rowPadding": -1.2, "labelOffset": 2, "cornerRadius": 0},
 "title": {"font": "Liberation Serif", "fontSize": 17, "fontWeight": "bold", "color": "black", "anchor": "middle", "frame": "group", "dx": -12, "offset": 5}
}
}
